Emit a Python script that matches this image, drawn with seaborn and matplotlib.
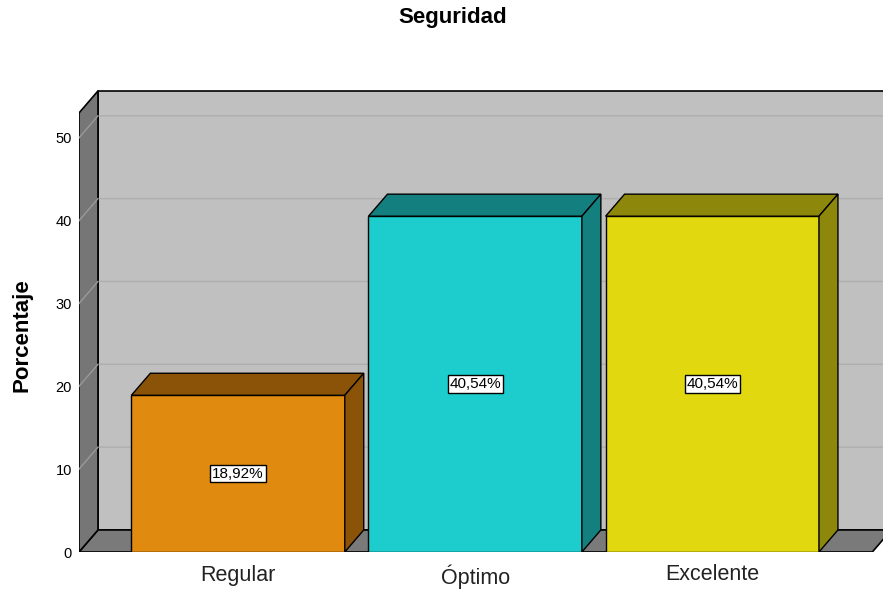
import matplotlib
matplotlib.use("Agg")
import matplotlib.pyplot as plt
from matplotlib.patches import Polygon, Rectangle
import seaborn as sns
import pandas as pd

categorias = ["Regular", "Óptimo", "Excelente"]
porcentajes = [18.92, 40.54, 40.54]
etiquetas = ["18,92%", "40,54%", "40,54%"]
colores = ["#E08A10", "#1DCDCD", "#E2D810"]
colores_oscuros = ["#8B5308", "#137F7F", "#8D870B"]
yticks = [0, 10, 20, 30, 40, 50]

df = pd.DataFrame({"cat": categorias, "pct": porcentajes})

plt.rcParams["font.family"] = ["Liberation Sans", "DejaVu Sans"]

# 3d look
dx, dy = 0.08, 2.66
x0, x1 = -0.671, 2.675
ytop = 53.0

fig = plt.figure(figsize=(8.83, 5.89), dpi=100)
ax = fig.add_axes([79 / 883, 1 - 552 / 589, 1 - 79 / 883, (552 - 84) / 589])

sns.barplot(data=df, x="cat", y="pct", hue="cat", palette=colores, width=0.9,
            saturation=1, edgecolor="black", linewidth=1, legend=False, ax=ax, zorder=5)

ax.set_xlim(x0, 2.72)
ax.set_ylim(0, 56.5)

# back wall
ax.add_patch(Rectangle((x0 + dx, dy), 4, ytop, facecolor="#C0C0C0",
                       edgecolor="black", lw=1.2, zorder=0))
for v in yticks[1:]:
    ax.plot([x0, x0 + dx, 4], [v, v + dy, v + dy], color="#AEAEAE", lw=1, zorder=0.5)
# floor
ax.add_patch(Polygon([(x0, 0), (x1, 0), (x1 + dx, dy), (x0 + dx, dy)],
                     facecolor="#7A7A7A", edgecolor="black", lw=1.2, zorder=1))
# left wall
ax.add_patch(Polygon([(x0, 0), (x0, ytop), (x0 + dx, ytop + dy), (x0 + dx, dy)],
                     facecolor="#767676", edgecolor="black", lw=1.2, zorder=1))
for v in yticks[1:]:
    ax.plot([x0, x0 + dx], [v, v + dy], color="#9A9A9A", lw=1, zorder=1.5)

for p, c, lab in zip(ax.patches[:3], colores_oscuros, etiquetas):
    bx, bw, bh = p.get_x(), p.get_width(), p.get_height()
    ax.add_patch(Polygon([(bx, bh), (bx + dx, bh + dy), (bx + bw + dx, bh + dy), (bx + bw, bh)],
                         facecolor=c, edgecolor="black", lw=1, zorder=5))
    ax.add_patch(Polygon([(bx + bw, 0), (bx + bw, bh), (bx + bw + dx, bh + dy), (bx + bw + dx, dy)],
                         facecolor=c, edgecolor="black", lw=1, zorder=5))
    ax.text(bx + bw / 2, bh / 2, lab, ha="center", va="center", fontsize=11, zorder=6,
            bbox=dict(boxstyle="square,pad=0.12", facecolor="white", edgecolor="black", lw=1))

for s in ax.spines.values():
    s.set_visible(False)
ax.set_yticks(yticks)
ax.tick_params(axis="y", length=0, pad=5, labelsize=10.5)
ax.tick_params(axis="x", length=0, pad=9, labelsize=15.5, labelcolor="#222222")
ax.set_xlabel("")
ax.set_ylabel("")

fig.text(453 / 883, 1 - 18 / 589, "Seguridad", ha="center", va="center",
         fontsize=16, fontweight="bold")
fig.text(22 / 883, 1 - 335 / 589, "Porcentaje", ha="center", va="center",
         rotation=90, fontsize=16, fontweight="bold")

fig.savefig("out.png", dpi=100)
